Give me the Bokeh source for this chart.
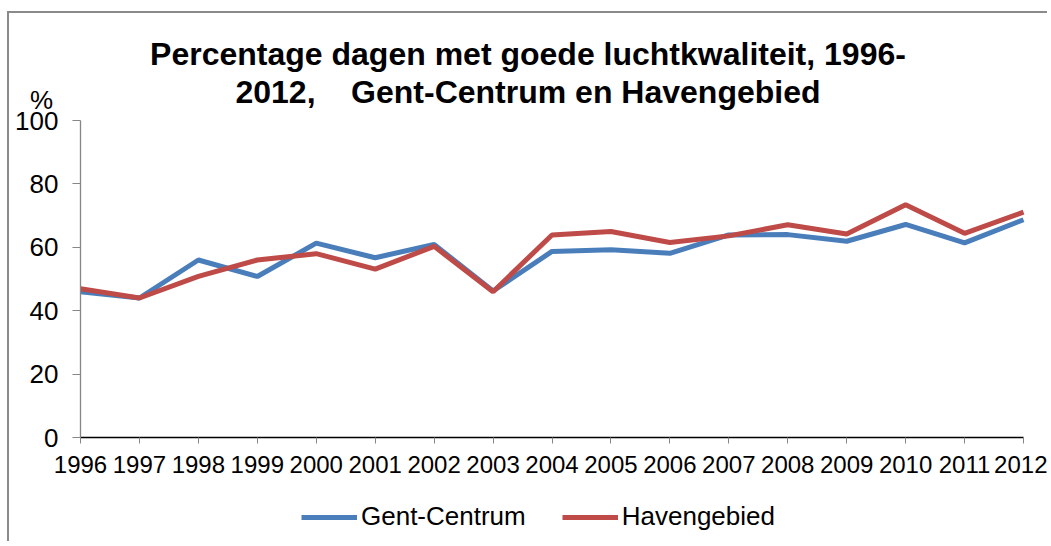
from bokeh.plotting import figure
from bokeh.models import ColumnDataSource, FixedTicker, Label, Legend, LegendItem, Range1d
from bokeh.embed import file_html
from bokeh.resources import INLINE

years = list(range(1996, 2013))
gent_centrum = [46.0, 44.0, 56.0, 50.8, 61.3, 56.7, 60.9, 46.2, 58.7, 59.2, 58.1, 63.9, 64.0, 61.9, 67.2, 61.4, 68.7]
havengebied = [46.9, 44.0, 50.8, 56.0, 58.0, 53.1, 60.3, 46.0, 63.9, 65.0, 61.5, 63.6, 67.1, 64.2, 73.4, 64.4, 71.1]
y_ticks = [0, 20, 40, 60, 80, 100]
title_lines = ["Percentage dagen met goede luchtkwaliteit, 1996-",
               "2012,\u00a0\u00a0\u00a0\u00a0Gent-Centrum en Havengebied"]
series_names = ["Gent-Centrum", "Havengebied"]
unit_label = "%"

FONT = "Liberation Sans"
BLUE = "#4a7ebb"
RED = "#be4b48"

# canvas / plot-area layout in pixels (canvas origin = top-left of figure)
W, H = 1040, 530
AX_LEFT, AX_RIGHT = 71, 1014      # x pixel of first / last year
AX_TOP, AX_BOTTOM = 107, 424      # y pixel of 100 / 0
x0, x1 = years[0], years[-1]
y0, y1 = y_ticks[0], y_ticks[-1]
sx = (AX_RIGHT - AX_LEFT) / (x1 - x0)
sy = (AX_BOTTOM - AX_TOP) / (y1 - y0)
x_range = Range1d(x0 - AX_LEFT / sx, x1 + (W - AX_RIGHT) / sx)
y_range = Range1d(y0 - (H - AX_BOTTOM) / sy, y1 + AX_TOP / sy)

src = ColumnDataSource(dict(year=years, gent=gent_centrum, haven=havengebied))

p = figure(width=W, height=H, output_backend="svg", toolbar_location=None, title=None,
           x_range=x_range, y_range=y_range, min_border=0)
p.styles = {"border-left": "2px solid #8a8a8a", "border-top": "2px solid #8a8a8a",
            "margin-left": "7px", "margin-top": "11px"}
p.outline_line_color = None
p.xgrid.grid_line_color = None
p.ygrid.grid_line_color = None

r1 = p.line("year", "gent", source=src, line_color=BLUE, line_width=5)
r2 = p.line("year", "haven", source=src, line_color=RED, line_width=5)

# axes, drawn at fixed data locations inside the frame
p.xaxis.fixed_location = y0
p.xaxis.bounds = (x0, x1)
p.xaxis.ticker = FixedTicker(ticks=years)
p.xaxis.minor_tick_line_color = None
p.xaxis.axis_line_color = "#000000"
p.xaxis.axis_line_width = 1.3
p.xaxis.major_tick_line_color = "#868686"
p.xaxis.major_tick_in = 0
p.xaxis.major_tick_out = 6
p.xaxis.major_label_standoff = 12
p.xaxis.major_label_text_font = FONT
p.xaxis.major_label_text_font_size = "24px"
p.xaxis.major_label_text_color = "#000000"

p.yaxis.fixed_location = x0
p.yaxis.bounds = (y0, y1)
p.yaxis.ticker = FixedTicker(ticks=y_ticks)
p.yaxis.minor_tick_line_color = None
p.yaxis.axis_line_color = "#868686"
p.yaxis.axis_line_width = 1.3
p.yaxis.major_tick_line_color = "#868686"
p.yaxis.major_tick_in = 0
p.yaxis.major_tick_out = 8
p.yaxis.major_label_standoff = 14
p.yaxis.major_label_text_font = FONT
p.yaxis.major_label_text_font_size = "26px"
p.yaxis.major_label_text_color = "#000000"

# title (two centred lines) and unit label
p.add_layout(Label(x=(x0 + x1) / 2, y=y1, x_offset=-24, y_offset=67, text=title_lines[0],
                   text_align="center", text_baseline="alphabetic", text_font=FONT,
                   text_font_size="32px", text_font_style="bold", text_color="#000000"))
p.add_layout(Label(x=(x0 + x1) / 2, y=y1, x_offset=-24, y_offset=29, text=title_lines[1],
                   text_align="center", text_baseline="alphabetic", text_font=FONT,
                   text_font_size="32px", text_font_style="bold", text_color="#000000"))
p.add_layout(Label(x=x0, y=y1, x_offset=-39, y_offset=21, text=unit_label,
                   text_align="center", text_baseline="alphabetic", text_font=FONT,
                   text_font_size="26px", text_color="#000000"))

legend = Legend(items=[LegendItem(label=series_names[0], renderers=[r1]),
                       LegendItem(label=series_names[1], renderers=[r2])],
                orientation="horizontal", location=(292, 11),
                glyph_width=56, glyph_height=30, label_standoff=4, spacing=36,
                padding=5, margin=0, border_line_color=None, background_fill_alpha=0,
                label_text_font=FONT, label_text_font_size="26px", label_text_color="#000000")
p.add_layout(legend, "center")

open("out.html", "w").write(file_html(p, INLINE))
